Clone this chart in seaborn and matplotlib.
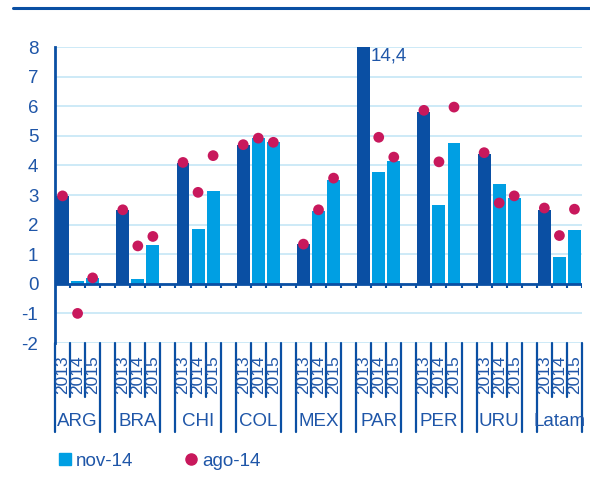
import matplotlib
matplotlib.use("Agg")
import matplotlib.pyplot as plt
from matplotlib.lines import Line2D
import seaborn as sns
import pandas as pd
import numpy as np

# Growth forecasts by country and year
countries = ["ARG", "BRA", "CHI", "COL", "MEX", "PAR", "PER", "URU", "Latam"]
years = ["2013", "2014", "2015"]
nov14 = [2.95, 0.10, 0.20,
         2.50, 0.16, 1.31,
         4.09, 1.86, 3.12,
         4.70, 4.92, 4.78,
         1.34, 2.47, 3.49,
         14.4, 3.79, 4.16,
         5.81, 2.65, 4.75,
         4.39, 3.38, 2.90,
         2.50, 0.92, 1.83]
ago14 = [2.97, -1.00, 0.20,
         2.50, 1.28, 1.60,
         4.10, 3.09, 4.33,
         4.70, 4.92, 4.78,
         1.34, 2.50, 3.57,
         None, 4.95, 4.28,
         5.86, 4.12, 5.97,
         4.43, 2.73, 2.97,
         2.56, 1.63, 2.52]
yticks = [-2, -1, 0, 1, 2, 3, 4, 5, 6, 7, 8]
outlier_label = "14,4"

DARK = "#0A4FA3"
LIGHT = "#009FE3"
DOT = "#C8185C"
GRID = "#C5E6F6"
TXT = "#1F56A8"
FS = 13.5
FS_YEAR = 12.5

rows = []
for ci, c in enumerate(countries):
    for yi, y in enumerate(years):
        k = ci * 3 + yi
        rows.append({"country": c, "year": y, "pos": ci * 4 + yi,
                     "kind": "first" if yi == 0 else "rest",
                     "nov": nov14[k], "ago": ago14[k]})
df = pd.DataFrame(rows)

sns.set_style("white")
plt.rcParams["font.family"] = ["Liberation Sans", "DejaVu Sans"]

fig = plt.figure(figsize=(5.9, 4.84), dpi=100)
ax = fig.add_axes([55 / 590, 1 - 343 / 484, 527 / 590, 296 / 484])
ax.set_xlim(-0.5, 34.5)
ax.set_ylim(-2, 8)

for v in yticks:
    ax.axhline(v, color=GRID, lw=1.2, zorder=0)

sns.barplot(data=df, x="pos", y="nov", hue="kind", native_scale=True,
            palette={"first": DARK, "rest": LIGHT}, dodge=False,
            saturation=1, width=0.86, legend=False, ax=ax, zorder=2,
            linewidth=0)
dots = df.dropna(subset=["ago"])
sns.scatterplot(data=dots, x="pos", y="ago", color=DOT, s=60,
                edgecolor="none", ax=ax, zorder=4, legend=False)

# outlier value label
par = df[(df.country == "PAR") & (df.year == "2013")].iloc[0]
ax.text(par.pos + 0.45, 7.68, outlier_label, color=TXT, fontsize=FS,
        va="center", ha="left", zorder=5)

# axes styling
for s in ax.spines.values():
    s.set_visible(False)
ax.spines["left"].set_visible(True)
ax.spines["left"].set_color(DARK)
ax.spines["left"].set_linewidth(2)
ax.set_yticks(yticks)
ax.set_yticklabels([str(v) for v in yticks], color=TXT, fontsize=FS)
ax.tick_params(axis="y", direction="out", length=4, width=1.5, color=DARK, pad=8)
ax.set_xticks([])
ax.set_xlabel("")
ax.set_ylabel("")

# category axis at zero with tick marks at slot boundaries
ax.axhline(0, color=DARK, lw=2, zorder=3)
bounds = np.arange(-0.5, 35, 1.0)
ax.vlines(bounds, -0.14, 0, color=DARK, lw=1.5, zorder=3)

# multi-level category labels below the plot area
trans = ax.get_xaxis_transform()
y_bot = 0.0
y_mid = -(397 - 343) / 296
y_low = -(432 - 343) / 296
for ci, c in enumerate(countries):
    start = ci * 4 - 0.5
    for edge in (start, start + 3):
        ax.plot([edge, edge], [y_bot, y_low], color=DARK, lw=1.6,
                transform=trans, clip_on=False)
    for inner in (start + 1, start + 2):
        ax.plot([inner, inner], [y_bot, y_mid], color=DARK, lw=1.6,
                transform=trans, clip_on=False)
    for yi, y in enumerate(years):
        ax.text(ci * 4 + yi, -(375 - 343) / 296, y, rotation=90,
                ha="center", va="center", color=TXT, fontsize=FS_YEAR,
                transform=trans)
    ax.text(ci * 4 + 1, -(421 - 343) / 296, c, ha="center", va="center",
            color=TXT, fontsize=FS, transform=trans)

# top rule
fig.add_artist(Line2D([13 / 590, 1], [1 - 7.5 / 484] * 2, color=DARK, lw=2.2))

# legend
handles = [Line2D([], [], marker="s", ls="none", color=LIGHT, markersize=8),
           Line2D([], [], marker="o", ls="none", color=DOT, markersize=8)]
fig.legend(handles, ["nov-14", "ago-14"], loc="center left",
           bbox_to_anchor=(47 / 590, 1 - 461 / 484), ncol=2, frameon=False,
           fontsize=FS, labelcolor=TXT, handletextpad=0.15, columnspacing=2.6,
           handlelength=0.9, borderpad=0)

fig.savefig("out.png", dpi=100)
